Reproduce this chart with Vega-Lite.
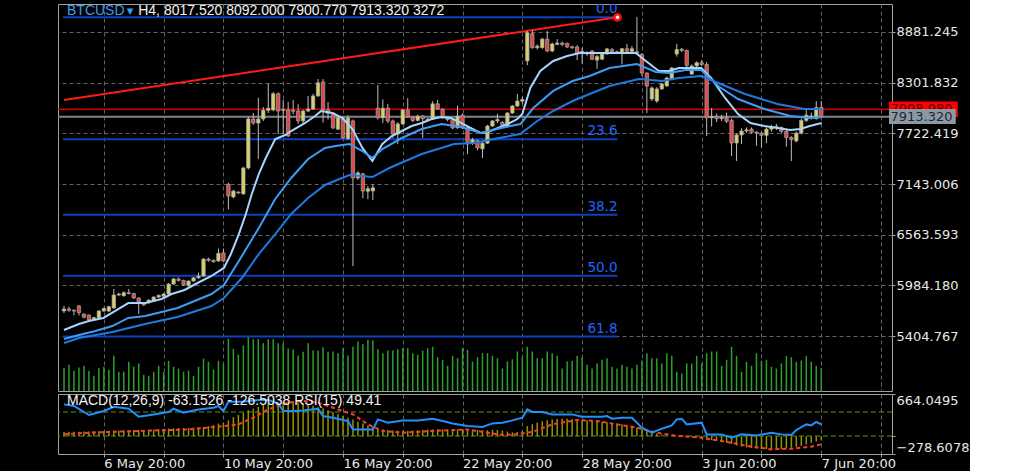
{
"$schema": "https://vega.github.io/schema/vega-lite/v6.json",
"background": "#000000",
"padding": {"left": 57, "top": 3, "right": 0, "bottom": 0},
"config": {
  "view": {"stroke": "#a3a3a3", "strokeWidth": 1},
  "axis": {"labelFont": "DejaVu Sans", "labelFontSize": 13, "labelColor": "#e8e8e8", "domain": false, "tickColor": "#a3a3a3", "tickSize": 3, "gridColor": "#626262", "gridDash": [4, 3], "gridWidth": 1, "title": null},
  "text": {"font": "DejaVu Sans"}
},
"datasets": {
  "bars": [
{"i":0,"o":5691,"h":5748,"l":5668,"c":5714,"v":3300,"m":68},
{"i":1,"o":5714,"h":5740,"l":5680,"c":5700,"v":3760,"m":70},
{"i":2,"o":5700,"h":5710,"l":5640,"c":5690,"v":2900,"m":71},
{"i":3,"o":5748,"h":5760,"l":5640,"c":5672,"v":3370,"m":72},
{"i":4,"o":5655,"h":5665,"l":5605,"c":5620,"v":3620,"m":74},
{"i":5,"o":5645,"h":5650,"l":5580,"c":5590,"v":2900,"m":76},
{"i":6,"o":5600,"h":5625,"l":5590,"c":5615,"v":2180,"m":78},
{"i":7,"o":5611,"h":5700,"l":5600,"c":5691,"v":3270,"m":80},
{"i":8,"o":5691,"h":5730,"l":5680,"c":5720,"v":3470,"m":83},
{"i":9,"o":5690,"h":5750,"l":5680,"c":5740,"v":3090,"m":85},
{"i":10,"o":5725,"h":5942,"l":5715,"c":5874,"v":5050,"m":90},
{"i":11,"o":5874,"h":5900,"l":5860,"c":5885,"v":2760,"m":92},
{"i":12,"o":5865,"h":5915,"l":5855,"c":5900,"v":2760,"m":94},
{"i":13,"o":5900,"h":5942,"l":5880,"c":5890,"v":4190,"m":96},
{"i":14,"o":5890,"h":5900,"l":5830,"c":5840,"v":3470,"m":98},
{"i":15,"o":5840,"h":5845,"l":5656,"c":5775,"v":3950,"m":98},
{"i":16,"o":5775,"h":5790,"l":5750,"c":5760,"v":2320,"m":100},
{"i":17,"o":5785,"h":5825,"l":5775,"c":5815,"v":2180,"m":103},
{"i":18,"o":5805,"h":5860,"l":5795,"c":5850,"v":2760,"m":108},
{"i":19,"o":5850,"h":5880,"l":5840,"c":5870,"v":3620,"m":112},
{"i":20,"o":5860,"h":5895,"l":5850,"c":5885,"v":2700,"m":115},
{"i":21,"o":5885,"h":6010,"l":5875,"c":5999,"v":4330,"m":120},
{"i":22,"o":5999,"h":6070,"l":5990,"c":6057,"v":3470,"m":125},
{"i":23,"o":6057,"h":6075,"l":6030,"c":6040,"v":3230,"m":128},
{"i":24,"o":6040,"h":6050,"l":5980,"c":5990,"v":2760,"m":130},
{"i":25,"o":5980,"h":6040,"l":5970,"c":6034,"v":2940,"m":133},
{"i":26,"o":6034,"h":6080,"l":6025,"c":6070,"v":2180,"m":136},
{"i":27,"o":6070,"h":6130,"l":6060,"c":6090,"v":3470,"m":140},
{"i":28,"o":6090,"h":6295,"l":6080,"c":6285,"v":4660,"m":146},
{"i":29,"o":6285,"h":6300,"l":6255,"c":6270,"v":4190,"m":160},
{"i":30,"o":6270,"h":6280,"l":6245,"c":6255,"v":3090,"m":175},
{"i":31,"o":6263,"h":6405,"l":6255,"c":6350,"v":4330,"m":200},
{"i":32,"o":6355,"h":6405,"l":6250,"c":6263,"v":3950,"m":215},
{"i":33,"o":7140,"h":7158,"l":6853,"c":7007,"v":7490,"m":250},
{"i":34,"o":6995,"h":7075,"l":6980,"c":7063,"v":6060,"m":300},
{"i":35,"o":7050,"h":7060,"l":7030,"c":7040,"v":5240,"m":335},
{"i":36,"o":7030,"h":7340,"l":7020,"c":7326,"v":6530,"m":370},
{"i":37,"o":7326,"h":7910,"l":7310,"c":7887,"v":7860,"m":410},
{"i":38,"o":7887,"h":7955,"l":7820,"c":7840,"v":7430,"m":435},
{"i":39,"o":7840,"h":8130,"l":7430,"c":7887,"v":7430,"m":460},
{"i":40,"o":7887,"h":8023,"l":7864,"c":7985,"v":6860,"m":490},
{"i":41,"o":7985,"h":8290,"l":7955,"c":8010,"v":7430,"m":520},
{"i":42,"o":7990,"h":8195,"l":7975,"c":8175,"v":7430,"m":535},
{"i":43,"o":8175,"h":8190,"l":7715,"c":7978,"v":6860,"m":538},
{"i":44,"o":7985,"h":8104,"l":7715,"c":7995,"v":6860,"m":540},
{"i":45,"o":7990,"h":8080,"l":7680,"c":7692,"v":6100,"m":538},
{"i":46,"o":7985,"h":8104,"l":7940,"c":7975,"v":5960,"m":530},
{"i":47,"o":7978,"h":8055,"l":7830,"c":7864,"v":5090,"m":522},
{"i":48,"o":7864,"h":7990,"l":7830,"c":7978,"v":5630,"m":517},
{"i":49,"o":7978,"h":8150,"l":7965,"c":8000,"v":6860,"m":500},
{"i":50,"o":8000,"h":8175,"l":7990,"c":8150,"v":5810,"m":480},
{"i":51,"o":8150,"h":8343,"l":8140,"c":8300,"v":5810,"m":455},
{"i":52,"o":8310,"h":8343,"l":7845,"c":7990,"v":6290,"m":440},
{"i":53,"o":7990,"h":8080,"l":7880,"c":7950,"v":5630,"m":410},
{"i":54,"o":7950,"h":7965,"l":7770,"c":7785,"v":5670,"m":380},
{"i":55,"o":7770,"h":7910,"l":7760,"c":7900,"v":5420,"m":350},
{"i":56,"o":7900,"h":7910,"l":7660,"c":7670,"v":6140,"m":320},
{"i":57,"o":7660,"h":7930,"l":7650,"c":7900,"v":5090,"m":290},
{"i":58,"o":7864,"h":7880,"l":6205,"c":7212,"v":6340,"m":265},
{"i":59,"o":7212,"h":7290,"l":7190,"c":7270,"v":7100,"m":230},
{"i":60,"o":7260,"h":7270,"l":6980,"c":7063,"v":6720,"m":200},
{"i":61,"o":7060,"h":7120,"l":6970,"c":7090,"v":7350,"m":170},
{"i":62,"o":7063,"h":7140,"l":6960,"c":7100,"v":7250,"m":150},
{"i":63,"o":8010,"h":8275,"l":7880,"c":7900,"v":6000,"m":130},
{"i":64,"o":7900,"h":8110,"l":7840,"c":8010,"v":5420,"m":112},
{"i":65,"o":8010,"h":8060,"l":7840,"c":7864,"v":5810,"m":100},
{"i":66,"o":7864,"h":7880,"l":7670,"c":7715,"v":5810,"m":92},
{"i":67,"o":7715,"h":7850,"l":7600,"c":7830,"v":6000,"m":85},
{"i":68,"o":7830,"h":8000,"l":7820,"c":7990,"v":6140,"m":83},
{"i":69,"o":7990,"h":8125,"l":7900,"c":7910,"v":6140,"m":85},
{"i":70,"o":7910,"h":7920,"l":7850,"c":7870,"v":5420,"m":90},
{"i":71,"o":7870,"h":7935,"l":7860,"c":7920,"v":5190,"m":95},
{"i":72,"o":7920,"h":7930,"l":7670,"c":7890,"v":5810,"m":100},
{"i":73,"o":7885,"h":7900,"l":7860,"c":7870,"v":6140,"m":104},
{"i":74,"o":7885,"h":8090,"l":7875,"c":8060,"v":6340,"m":108},
{"i":75,"o":8060,"h":8105,"l":7990,"c":8000,"v":4850,"m":110},
{"i":76,"o":8000,"h":8010,"l":7890,"c":7900,"v":4480,"m":110},
{"i":77,"o":7900,"h":7915,"l":7860,"c":7880,"v":3620,"m":108},
{"i":78,"o":7880,"h":7890,"l":7770,"c":7785,"v":5050,"m":108},
{"i":79,"o":7785,"h":8040,"l":7775,"c":7920,"v":4710,"m":108},
{"i":80,"o":7930,"h":7950,"l":7770,"c":7785,"v":6140,"m":108},
{"i":81,"o":7785,"h":7800,"l":7485,"c":7600,"v":5910,"m":108},
{"i":82,"o":7610,"h":7670,"l":7590,"c":7650,"v":4230,"m":104},
{"i":83,"o":7640,"h":7650,"l":7530,"c":7555,"v":4850,"m":100},
{"i":84,"o":7545,"h":7625,"l":7440,"c":7610,"v":5420,"m":95},
{"i":85,"o":7610,"h":7820,"l":7600,"c":7806,"v":5420,"m":96},
{"i":86,"o":7806,"h":7875,"l":7795,"c":7864,"v":5050,"m":100},
{"i":87,"o":7864,"h":7945,"l":7840,"c":7880,"v":4710,"m":100},
{"i":88,"o":7850,"h":7860,"l":7800,"c":7815,"v":3230,"m":90},
{"i":89,"o":7806,"h":7965,"l":7795,"c":7955,"v":4230,"m":75},
{"i":90,"o":7955,"h":8045,"l":7945,"c":8035,"v":4560,"m":60},
{"i":91,"o":8035,"h":8175,"l":8025,"c":8092,"v":5670,"m":65},
{"i":92,"o":8090,"h":8140,"l":8060,"c":8110,"v":4850,"m":80},
{"i":93,"o":8550,"h":8893,"l":8503,"c":8873,"v":6340,"m":160},
{"i":94,"o":8862,"h":8904,"l":8690,"c":8702,"v":5670,"m":190},
{"i":95,"o":8702,"h":8740,"l":8680,"c":8720,"v":4710,"m":215},
{"i":96,"o":8702,"h":8815,"l":8690,"c":8800,"v":4710,"m":235},
{"i":97,"o":8800,"h":8893,"l":8650,"c":8664,"v":5670,"m":250},
{"i":98,"o":8664,"h":8760,"l":8650,"c":8744,"v":5420,"m":262},
{"i":99,"o":8740,"h":8800,"l":8730,"c":8755,"v":5050,"m":272},
{"i":100,"o":8755,"h":8770,"l":8720,"c":8740,"v":3230,"m":276},
{"i":101,"o":8750,"h":8760,"l":8700,"c":8710,"v":4230,"m":276},
{"i":102,"o":8712,"h":8725,"l":8690,"c":8700,"v":4330,"m":272},
{"i":103,"o":8710,"h":8730,"l":8560,"c":8630,"v":5050,"m":266},
{"i":104,"o":8640,"h":8700,"l":8520,"c":8660,"v":4850,"m":260},
{"i":105,"o":8645,"h":8660,"l":8610,"c":8630,"v":3760,"m":250},
{"i":106,"o":8664,"h":8675,"l":8560,"c":8570,"v":3230,"m":242},
{"i":107,"o":8560,"h":8620,"l":8460,"c":8600,"v":3950,"m":235},
{"i":108,"o":8570,"h":8640,"l":8560,"c":8630,"v":4480,"m":228},
{"i":109,"o":8630,"h":8700,"l":8620,"c":8688,"v":4710,"m":220},
{"i":110,"o":8680,"h":8700,"l":8650,"c":8660,"v":3470,"m":210},
{"i":111,"o":8655,"h":8670,"l":8630,"c":8640,"v":3230,"m":200},
{"i":112,"o":8640,"h":8700,"l":8510,"c":8690,"v":3760,"m":188},
{"i":113,"o":8690,"h":8745,"l":8650,"c":8660,"v":3470,"m":172},
{"i":114,"o":8660,"h":8720,"l":8650,"c":8690,"v":3230,"m":155},
{"i":115,"o":8655,"h":9052,"l":8620,"c":8640,"v":3760,"m":135},
{"i":116,"o":8624,"h":8640,"l":8380,"c":8412,"v":4380,"m":110},
{"i":117,"o":8412,"h":8420,"l":7955,"c":8264,"v":5420,"m":85},
{"i":118,"o":8115,"h":8260,"l":8092,"c":8241,"v":4710,"m":65},
{"i":119,"o":8092,"h":8250,"l":8070,"c":8230,"v":4710,"m":45},
{"i":120,"o":8230,"h":8300,"l":8220,"c":8287,"v":3950,"m":25},
{"i":121,"o":8264,"h":8370,"l":8255,"c":8355,"v":5420,"m":10},
{"i":122,"o":8345,"h":8480,"l":8330,"c":8470,"v":5050,"m":2},
{"i":123,"o":8630,"h":8745,"l":8600,"c":8680,"v":2760,"m":-5},
{"i":124,"o":8685,"h":8700,"l":8650,"c":8670,"v":2510,"m":-6},
{"i":125,"o":8670,"h":8680,"l":8480,"c":8500,"v":3950,"m":-8},
{"i":126,"o":8400,"h":8510,"l":8390,"c":8493,"v":3950,"m":-10},
{"i":127,"o":8493,"h":8545,"l":8480,"c":8530,"v":5050,"m":-20},
{"i":128,"o":8530,"h":8560,"l":8490,"c":8510,"v":3950,"m":-35},
{"i":129,"o":8510,"h":8540,"l":7692,"c":7900,"v":5420,"m":-50},
{"i":130,"o":7900,"h":8010,"l":7800,"c":7915,"v":5670,"m":-62},
{"i":131,"o":7915,"h":7950,"l":7850,"c":7890,"v":5670,"m":-75},
{"i":132,"o":7890,"h":7935,"l":7860,"c":7905,"v":3620,"m":-88},
{"i":133,"o":7900,"h":7960,"l":7840,"c":7860,"v":4480,"m":-100},
{"i":134,"o":7870,"h":7890,"l":7462,"c":7612,"v":6340,"m":-120},
{"i":135,"o":7612,"h":7720,"l":7406,"c":7704,"v":5050,"m":-145},
{"i":136,"o":7704,"h":7780,"l":7600,"c":7749,"v":2760,"m":-163},
{"i":137,"o":7749,"h":7790,"l":7730,"c":7762,"v":4190,"m":-175},
{"i":138,"o":7770,"h":7790,"l":7720,"c":7735,"v":3620,"m":-185},
{"i":139,"o":7737,"h":7745,"l":7580,"c":7725,"v":5420,"m":-195},
{"i":140,"o":7725,"h":7740,"l":7560,"c":7700,"v":4330,"m":-200},
{"i":141,"o":7700,"h":7790,"l":7610,"c":7770,"v":4480,"m":-203},
{"i":142,"o":7770,"h":7820,"l":7740,"c":7800,"v":3470,"m":-206},
{"i":143,"o":7802,"h":7830,"l":7760,"c":7790,"v":3230,"m":-206},
{"i":144,"o":7790,"h":7800,"l":7720,"c":7745,"v":3950,"m":-200},
{"i":145,"o":7745,"h":7760,"l":7570,"c":7675,"v":5050,"m":-190},
{"i":146,"o":7675,"h":7690,"l":7406,"c":7650,"v":4850,"m":-179},
{"i":147,"o":7635,"h":7740,"l":7620,"c":7725,"v":4190,"m":-165},
{"i":148,"o":7725,"h":7890,"l":7710,"c":7870,"v":4380,"m":-150},
{"i":149,"o":7870,"h":7990,"l":7850,"c":7930,"v":5050,"m":-130},
{"i":150,"o":7905,"h":7960,"l":7880,"c":7920,"v":4190,"m":-105},
{"i":151,"o":7890,"h":8092,"l":7880,"c":8017,"v":3620,"m":-80},
{"i":152,"o":8017.52,"h":8092,"l":7900.77,"c":7913.32,"v":3272,"m":-63.1526}
  ],
  "ma": [
{"s":"fast","i":0,"p":5474},{"s":"fast","i":3,"p":5542},{"s":"fast","i":5,"p":5576},{"s":"fast","i":7.9,"p":5611},{"s":"fast","i":10.3,"p":5691},{"s":"fast","i":12.9,"p":5782},{"s":"fast","i":16.3,"p":5782},{"s":"fast","i":19.6,"p":5828},{"s":"fast","i":21.6,"p":5885},{"s":"fast","i":24.2,"p":5931},{"s":"fast","i":26.8,"p":6011},{"s":"fast","i":29.6,"p":6091},{"s":"fast","i":32.1,"p":6183},{"s":"fast","i":33.5,"p":6343},{"s":"fast","i":35.1,"p":6571},{"s":"fast","i":36.5,"p":6800},{"s":"fast","i":37.7,"p":7029},{"s":"fast","i":39.1,"p":7257},{"s":"fast","i":40.5,"p":7440},{"s":"fast","i":42.4,"p":7658},{"s":"fast","i":44.4,"p":7703},{"s":"fast","i":45.6,"p":7749},{"s":"fast","i":48.4,"p":7841},{"s":"fast","i":50.4,"p":7921},{"s":"fast","i":51.6,"p":7978},{"s":"fast","i":53.9,"p":7955},{"s":"fast","i":55.9,"p":7898},{"s":"fast","i":57.9,"p":7772},{"s":"fast","i":59.9,"p":7555},{"s":"fast","i":61.9,"p":7406},{"s":"fast","i":63.9,"p":7601},{"s":"fast","i":65.8,"p":7692},{"s":"fast","i":67.8,"p":7749},{"s":"fast","i":69.8,"p":7806},{"s":"fast","i":71.8,"p":7841},{"s":"fast","i":73.8,"p":7886},{"s":"fast","i":75.8,"p":7909},{"s":"fast","i":77.7,"p":7898},{"s":"fast","i":79.7,"p":7841},{"s":"fast","i":81.7,"p":7783},{"s":"fast","i":83.7,"p":7726},{"s":"fast","i":85.1,"p":7738},{"s":"fast","i":87.1,"p":7783},{"s":"fast","i":89.1,"p":7829},{"s":"fast","i":91,"p":7886},{"s":"fast","i":92,"p":7944},{"s":"fast","i":93.6,"p":8241},{"s":"fast","i":95.6,"p":8435},{"s":"fast","i":98.2,"p":8550},{"s":"fast","i":101,"p":8607},{"s":"fast","i":103.5,"p":8641},{"s":"fast","i":110.1,"p":8641},{"s":"fast","i":114.8,"p":8641},{"s":"fast","i":116.8,"p":8550},{"s":"fast","i":119.4,"p":8435},{"s":"fast","i":121.4,"p":8435},{"s":"fast","i":123.4,"p":8470},{"s":"fast","i":127.9,"p":8470},{"s":"fast","i":129.9,"p":8355},{"s":"fast","i":132.7,"p":8127},{"s":"fast","i":135.3,"p":7943},{"s":"fast","i":137.8,"p":7841},{"s":"fast","i":140.6,"p":7806},{"s":"fast","i":143.2,"p":7783},{"s":"fast","i":145.8,"p":7760},{"s":"fast","i":147.8,"p":7772},{"s":"fast","i":149.7,"p":7806},{"s":"fast","i":152.1,"p":7841},
{"s":"mid","i":0,"p":5371},{"s":"mid","i":3,"p":5416},{"s":"mid","i":6.3,"p":5462},{"s":"mid","i":9.7,"p":5519},{"s":"mid","i":12.9,"p":5611},{"s":"mid","i":16.3,"p":5634},{"s":"mid","i":19.6,"p":5679},{"s":"mid","i":22.8,"p":5725},{"s":"mid","i":26.2,"p":5805},{"s":"mid","i":29.6,"p":5885},{"s":"mid","i":32.1,"p":5988},{"s":"mid","i":35.1,"p":6263},{"s":"mid","i":39.1,"p":6640},{"s":"mid","i":42.4,"p":6972},{"s":"mid","i":45.6,"p":7212},{"s":"mid","i":49,"p":7429},{"s":"mid","i":52.4,"p":7555},{"s":"mid","i":54.5,"p":7578},{"s":"mid","i":57.3,"p":7601},{"s":"mid","i":59.9,"p":7520},{"s":"mid","i":61.9,"p":7440},{"s":"mid","i":63.9,"p":7543},{"s":"mid","i":67.8,"p":7669},{"s":"mid","i":71.8,"p":7772},{"s":"mid","i":75.8,"p":7829},{"s":"mid","i":79.7,"p":7795},{"s":"mid","i":83.7,"p":7726},{"s":"mid","i":87.7,"p":7783},{"s":"mid","i":91.6,"p":7829},{"s":"mid","i":94.2,"p":8012},{"s":"mid","i":98.2,"p":8207},{"s":"mid","i":102.1,"p":8321},{"s":"mid","i":105.5,"p":8378},{"s":"mid","i":109.5,"p":8470},{"s":"mid","i":115,"p":8515},{"s":"mid","i":118.8,"p":8424},{"s":"mid","i":121.4,"p":8412},{"s":"mid","i":124.8,"p":8447},{"s":"mid","i":127.9,"p":8447},{"s":"mid","i":131.3,"p":8264},{"s":"mid","i":135.3,"p":8115},{"s":"mid","i":140.6,"p":8001},{"s":"mid","i":145.8,"p":7921},{"s":"mid","i":149.7,"p":7898},{"s":"mid","i":152.1,"p":7909},
{"s":"slow","i":0,"p":5325},{"s":"slow","i":3,"p":5382},{"s":"slow","i":9.7,"p":5451},{"s":"slow","i":16.3,"p":5542},{"s":"slow","i":22.8,"p":5622},{"s":"slow","i":29.6,"p":5748},{"s":"slow","i":32.1,"p":5839},{"s":"slow","i":35.7,"p":6068},{"s":"slow","i":39.1,"p":6342},{"s":"slow","i":42.4,"p":6571},{"s":"slow","i":45.6,"p":6800},{"s":"slow","i":49,"p":6983},{"s":"slow","i":52.4,"p":7132},{"s":"slow","i":55.3,"p":7200},{"s":"slow","i":57.3,"p":7246},{"s":"slow","i":61.9,"p":7223},{"s":"slow","i":65.3,"p":7326},{"s":"slow","i":71.8,"p":7486},{"s":"slow","i":78.3,"p":7600},{"s":"slow","i":82.3,"p":7612},{"s":"slow","i":86.3,"p":7658},{"s":"slow","i":91.6,"p":7715},{"s":"slow","i":95,"p":7864},{"s":"slow","i":98.2,"p":7978},{"s":"slow","i":102.1,"p":8092},{"s":"slow","i":105.5,"p":8172},{"s":"slow","i":109.5,"p":8264},{"s":"slow","i":115.4,"p":8344},{"s":"slow","i":120,"p":8321},{"s":"slow","i":123.4,"p":8355},{"s":"slow","i":127.9,"p":8378},{"s":"slow","i":131.3,"p":8298},{"s":"slow","i":136.7,"p":8172},{"s":"slow","i":143.2,"p":8058},{"s":"slow","i":148.6,"p":8001},{"s":"slow","i":152.1,"p":8001}
  ],
  "fib": [
{"lv":"0.0","p":9050},{"lv":"23.6","p":7655},{"lv":"38.2","p":6792},{"lv":"50.0","p":6095},{"lv":"61.8","p":5398}
  ],
  "trend": [{"i":0,"p":8104},{"i":111.1,"p":9049}],
  "sig": [
{"i":0,"s":30},{"i":5,"s":57},{"i":15,"s":83},{"i":25,"s":108},{"i":31,"s":151},{"i":35,"s":187},{"i":38,"s":292},{"i":41,"s":423},{"i":45,"s":528},{"i":48,"s":555},{"i":51,"s":528},{"i":54,"s":449},{"i":58,"s":344},{"i":61,"s":187},{"i":64,"s":83},{"i":68,"s":57},{"i":74,"s":83},{"i":81,"s":108},{"i":84,"s":68},{"i":88,"s":20},{"i":90,"s":25},{"i":94,"s":68},{"i":98,"s":187},{"i":103,"s":256},{"i":107,"s":240},{"i":111,"s":187},{"i":115,"s":135},{"i":119,"s":57},{"i":123,"s":5},{"i":128,"s":-22},{"i":133,"s":-90},{"i":138,"s":-163},{"i":142,"s":-206},{"i":146,"s":-195},{"i":150,"s":-163},{"i":152,"s":-126.5038}
  ],
  "rsi": [
{"i":0,"r":82.7},{"i":2,"r":80},{"i":5,"r":65},{"i":8,"r":71.7},{"i":10,"r":78.8},{"i":13,"r":75.5},{"i":15,"r":62.2},{"i":18,"r":66},{"i":21,"r":70},{"i":22,"r":75.5},{"i":24,"r":68.8},{"i":27,"r":74.3},{"i":30,"r":77.2},{"i":31,"r":80},{"i":32,"r":71.7},{"i":33,"r":87.2},{"i":36,"r":87.2},{"i":39,"r":90},{"i":41,"r":90},{"i":43,"r":84.3},{"i":44,"r":71.7},{"i":46,"r":71.7},{"i":48,"r":72.7},{"i":51,"r":75.5},{"i":52,"r":63.3},{"i":54,"r":60.5},{"i":56,"r":56.7},{"i":57,"r":55},{"i":58,"r":41},{"i":60,"r":41},{"i":62,"r":41},{"i":63,"r":57.7},{"i":65,"r":52.2},{"i":68,"r":56},{"i":71,"r":56},{"i":74,"r":58.8},{"i":76,"r":55},{"i":78,"r":51},{"i":81,"r":46.7},{"i":84,"r":45},{"i":86,"r":51},{"i":88,"r":52.2},{"i":90,"r":56},{"i":92,"r":60.5},{"i":93,"r":74.3},{"i":94,"r":70},{"i":96,"r":70},{"i":98,"r":66},{"i":102,"r":66},{"i":104,"r":62.2},{"i":108,"r":62.2},{"i":109,"r":63.3},{"i":110,"r":58.8},{"i":112,"r":60.5},{"i":114,"r":60.5},{"i":116,"r":43.8},{"i":118,"r":35.5},{"i":120,"r":42.2},{"i":122,"r":47.7},{"i":123,"r":57.7},{"i":124,"r":58.8},{"i":125,"r":49.3},{"i":128,"r":52.2},{"i":129,"r":32.7},{"i":132,"r":32.7},{"i":134,"r":27.2},{"i":136,"r":32.7},{"i":139,"r":31},{"i":142,"r":35.5},{"i":144,"r":32.7},{"i":146,"r":31.7},{"i":147,"r":40},{"i":149,"r":49.3},{"i":150,"r":47.7},{"i":151,"r":53.3},{"i":152,"r":49.41}
  ],
  "levels": [{"r":70},{"r":30}]
},
"resolve": {"scale": {"x": "independent", "y": "independent"}},
"spacing": 1,
"vconcat": [
{
  "width": 834, "height": 387,
  "resolve": {"scale": {"y": "independent"}},
  "layer": [
    {"data": {"name": "bars"},
     "mark": {"type": "bar", "width": 1.5, "color": "#2e9e2e", "clip": true},
     "encoding": {
       "x": {"field": "i", "type": "quantitative", "scale": {"domain": [-0.2, 165.2], "nice": false, "zero": false},
             "axis": {"values": [8,20,32,44,56,68,80,92,104,116,128,140,152,164], "labels": false, "ticks": false, "grid": true}},
       "y": {"field": "v", "type": "quantitative", "scale": {"domain": [0, 55535], "nice": false}, "axis": null},
       "y2": {"datum": 0}}},
    {"data": {"name": "fib"},
     "mark": {"type": "rule", "color": "#0d3fbf", "strokeWidth": 2, "clip": true},
     "encoding": {
       "x": {"datum": -0.2, "type": "quantitative", "scale": {"domain": [-0.2, 165.2], "nice": false, "zero": false}}, "x2": {"datum": 111.1},
       "y": {"field": "p", "type": "quantitative", "scale": {"domain": [4776, 9201.4], "nice": false, "zero": false}, "axis": null}}},
    {"data": {"name": "fib"},
     "mark": {"type": "text", "align": "right", "baseline": "bottom", "dy": -1, "color": "#2266ff", "fontSize": 13.5, "clip": true},
     "encoding": {
       "x": {"datum": 111.1, "type": "quantitative", "scale": {"domain": [-0.2, 165.2], "nice": false, "zero": false}},
       "y": {"field": "p", "type": "quantitative", "scale": {"domain": [4776, 9201.4], "nice": false, "zero": false}, "axis": null},
       "text": {"field": "lv"}}},
    {"data": {"name": "trend"},
     "mark": {"type": "line", "color": "#ff1a1a", "strokeWidth": 2, "clip": true},
     "encoding": {
       "x": {"field": "i", "type": "quantitative", "scale": {"domain": [-0.2, 165.2], "nice": false, "zero": false}},
       "y": {"field": "p", "type": "quantitative", "scale": {"domain": [4776, 9201.4], "nice": false, "zero": false}, "axis": null}}},
    {"data": {"values": [{"k": "ask"}]},
     "mark": {"type": "rule", "color": "#d60000", "strokeWidth": 1.5, "clip": true},
     "encoding": {"y": {"datum": 7998.98, "type": "quantitative", "scale": {"domain": [4776, 9201.4], "nice": false, "zero": false}, "axis": null}}},
    {"data": {"values": [{"k": "bid"}]},
     "mark": {"type": "rule", "color": "#7b848e", "strokeWidth": 2, "clip": true},
     "encoding": {"y": {"datum": 7913.32, "type": "quantitative", "scale": {"domain": [4776, 9201.4], "nice": false, "zero": false}, "axis": null}}},
    {"data": {"name": "bars"},
     "mark": {"type": "rule", "color": "#bdbdbd", "strokeWidth": 1, "clip": true},
     "encoding": {
       "x": {"field": "i", "type": "quantitative", "scale": {"domain": [-0.2, 165.2], "nice": false, "zero": false}},
       "y": {"field": "l", "type": "quantitative", "scale": {"domain": [4776, 9201.4], "nice": false, "zero": false},
             "axis": {"orient": "right", "values": [8881.245, 8301.832, 7722.419, 7143.006, 6563.593, 5984.18, 5404.767], "format": ".3f", "grid": true, "labelPadding": 1}},
       "y2": {"field": "h"}}},
    {"data": {"name": "bars"},
     "mark": {"type": "bar", "width": 3.4, "stroke": "#a8a8a8", "strokeWidth": 0.7, "clip": true},
     "encoding": {
       "x": {"field": "i", "type": "quantitative", "scale": {"domain": [-0.2, 165.2], "nice": false, "zero": false}},
       "y": {"field": "o", "type": "quantitative", "scale": {"domain": [4776, 9201.4], "nice": false, "zero": false}, "axis": null},
       "y2": {"field": "c"},
       "color": {"condition": {"test": "datum.c >= datum.o", "value": "#d8d068"}, "value": "#e04848"}}},
    {"data": {"name": "ma"},
     "mark": {"type": "line", "strokeWidth": 2, "clip": true},
     "encoding": {
       "x": {"field": "i", "type": "quantitative", "scale": {"domain": [-0.2, 165.2], "nice": false, "zero": false}},
       "y": {"field": "p", "type": "quantitative", "scale": {"domain": [4776, 9201.4], "nice": false, "zero": false}, "axis": null},
       "color": {"field": "s", "type": "nominal", "scale": {"domain": ["fast", "mid", "slow"], "range": ["#a6d6ff", "#3d9df5", "#1f7ae0"]}, "legend": null}}},
    {"data": {"name": "trend"},
     "transform": [{"filter": "datum.i > 100"}],
     "mark": {"type": "point", "filled": false, "fill": "#ffffff", "fillOpacity": 1, "stroke": "#ff1010", "strokeWidth": 2.6, "size": 38, "opacity": 1, "clip": true},
     "encoding": {
       "x": {"field": "i", "type": "quantitative", "scale": {"domain": [-0.2, 165.2], "nice": false, "zero": false}},
       "y": {"field": "p", "type": "quantitative", "scale": {"domain": [4776, 9201.4], "nice": false, "zero": false}, "axis": null}}},
    {"data": {"values": [{"t": "BTCUSD"}]},
     "mark": {"type": "text", "align": "left", "baseline": "middle", "font": "Liberation Sans", "fontSize": 14, "color": "#3d9df0", "clip": true},
     "encoding": {
       "x": {"datum": 0.6, "type": "quantitative", "scale": {"domain": [-0.2, 165.2], "nice": false, "zero": false}},
       "y": {"datum": 9121, "type": "quantitative", "scale": {"domain": [4776, 9201.4], "nice": false, "zero": false}, "axis": null},
       "text": {"field": "t"}}},
    {"data": {"values": [{"t": "▼"}]},
     "mark": {"type": "text", "align": "left", "baseline": "middle", "fontSize": 8.5, "color": "#3d9df0", "clip": true},
     "encoding": {
       "x": {"datum": 12.6, "type": "quantitative", "scale": {"domain": [-0.2, 165.2], "nice": false, "zero": false}},
       "y": {"datum": 9121, "type": "quantitative", "scale": {"domain": [4776, 9201.4], "nice": false, "zero": false}, "axis": null},
       "text": {"field": "t"}}},
    {"data": {"values": [{"t": "H4, 8017.520 8092.000 7900.770 7913.320 3272"}]},
     "mark": {"type": "text", "align": "left", "baseline": "middle", "font": "Liberation Sans", "fontSize": 14, "color": "#f2f2f2", "clip": true},
     "encoding": {
       "x": {"datum": 14.9, "type": "quantitative", "scale": {"domain": [-0.2, 165.2], "nice": false, "zero": false}},
       "y": {"datum": 9121, "type": "quantitative", "scale": {"domain": [4776, 9201.4], "nice": false, "zero": false}, "axis": null},
       "text": {"field": "t"}}},
    {"data": {"values": [{"k": "ask"}]},
     "mark": {"type": "rect", "color": "#ff0000"},
     "encoding": {
       "x": {"datum": 165.6, "type": "quantitative", "scale": {"domain": [-0.2, 165.2], "nice": false, "zero": false}}, "x2": {"datum": 179.4},
       "y": {"datum": 8086, "type": "quantitative", "scale": {"domain": [4776, 9201.4], "nice": false, "zero": false}, "axis": null},
       "y2": {"datum": 7909}}},
    {"data": {"values": [{"t": "7998.980"}]},
     "mark": {"type": "text", "align": "left", "baseline": "middle", "fontSize": 13, "color": "#5c0000"},
     "encoding": {
       "x": {"datum": 165.9, "type": "quantitative", "scale": {"domain": [-0.2, 165.2], "nice": false, "zero": false}},
       "y": {"datum": 7998.98, "type": "quantitative", "scale": {"domain": [4776, 9201.4], "nice": false, "zero": false}, "axis": null},
       "text": {"field": "t"}}},
    {"data": {"values": [{"k": "bid"}]},
     "mark": {"type": "rect", "color": "#8d98a5"},
     "encoding": {
       "x": {"datum": 165.6, "type": "quantitative", "scale": {"domain": [-0.2, 165.2], "nice": false, "zero": false}}, "x2": {"datum": 179.0},
       "y": {"datum": 8000, "type": "quantitative", "scale": {"domain": [4776, 9201.4], "nice": false, "zero": false}, "axis": null},
       "y2": {"datum": 7828}}},
    {"data": {"values": [{"t": "7913.320"}]},
     "mark": {"type": "text", "align": "left", "baseline": "middle", "fontSize": 13, "color": "#1d2733"},
     "encoding": {
       "x": {"datum": 165.9, "type": "quantitative", "scale": {"domain": [-0.2, 165.2], "nice": false, "zero": false}},
       "y": {"datum": 7913.32, "type": "quantitative", "scale": {"domain": [4776, 9201.4], "nice": false, "zero": false}, "axis": null},
       "text": {"field": "t"}}}
  ]
},
{
  "width": 834, "height": 60,
  "resolve": {"scale": {"y": "independent"}},
  "layer": [
    {"data": {"name": "levels"},
     "mark": {"type": "rule", "color": "#4f9a0c", "strokeWidth": 1, "strokeDash": [5, 3], "clip": true},
     "encoding": {"y": {"field": "r", "type": "quantitative", "scale": {"domain": [0, 100], "nice": false}, "axis": null}}},
    {"data": {"name": "bars"},
     "mark": {"type": "bar", "width": 1.5, "color": "#949400", "clip": true},
     "encoding": {
       "x": {"field": "i", "type": "quantitative", "scale": {"domain": [-0.2, 165.2], "nice": false, "zero": false},
             "axis": {"values": [8,20,32,44,56,68,80,92,104,116,128,140,152,164], "grid": true, "labelAlign": "left", "labelPadding": 0, "labelOverlap": false, "labelBound": false, "labelFlush": false,
                      "labelExpr": "datum.value == 8 ? '6 May 20:00' : datum.value == 32 ? '10 May 20:00' : datum.value == 56 ? '16 May 20:00' : datum.value == 80 ? '22 May 20:00' : datum.value == 104 ? '28 May 20:00' : datum.value == 128 ? '3 Jun 20:00' : datum.value == 152 ? '7 Jun 20:00' : ''"}},
       "y": {"field": "m", "type": "quantitative", "scale": {"domain": [-278.6078, 664.0495], "nice": false, "zero": false},
             "axis": {"orient": "right", "values": [664.0495, 0, -278.6078], "format": ".4f", "labelFlush": true, "grid": false, "labelPadding": 1}},
       "y2": {"datum": 0}}},
    {"data": {"name": "sig"},
     "mark": {"type": "line", "color": "#ff3b2f", "strokeWidth": 2, "strokeDash": [4, 3], "clip": true},
     "encoding": {
       "x": {"field": "i", "type": "quantitative", "scale": {"domain": [-0.2, 165.2], "nice": false, "zero": false}},
       "y": {"field": "s", "type": "quantitative", "scale": {"domain": [-278.6078, 664.0495], "nice": false, "zero": false}, "axis": null}}},
    {"data": {"name": "rsi"},
     "mark": {"type": "line", "color": "#2190ff", "strokeWidth": 2, "clip": true},
     "encoding": {
       "x": {"field": "i", "type": "quantitative", "scale": {"domain": [-0.2, 165.2], "nice": false, "zero": false}},
       "y": {"field": "r", "type": "quantitative", "scale": {"domain": [0, 100], "nice": false}, "axis": null}}},
    {"data": {"values": [{"t": "MACD(12,26,9) -63.1526 -126.5038 RSI(15) 49.41"}]},
     "mark": {"type": "text", "align": "left", "baseline": "middle", "font": "Liberation Sans", "fontSize": 14, "color": "#f2f2f2", "clip": true},
     "encoding": {
       "x": {"datum": 0.6, "type": "quantitative", "scale": {"domain": [-0.2, 165.2], "nice": false, "zero": false}},
       "y": {"datum": 87.8, "type": "quantitative", "scale": {"domain": [0, 100], "nice": false}, "axis": null},
       "text": {"field": "t"}}}
  ]
}
]
}
